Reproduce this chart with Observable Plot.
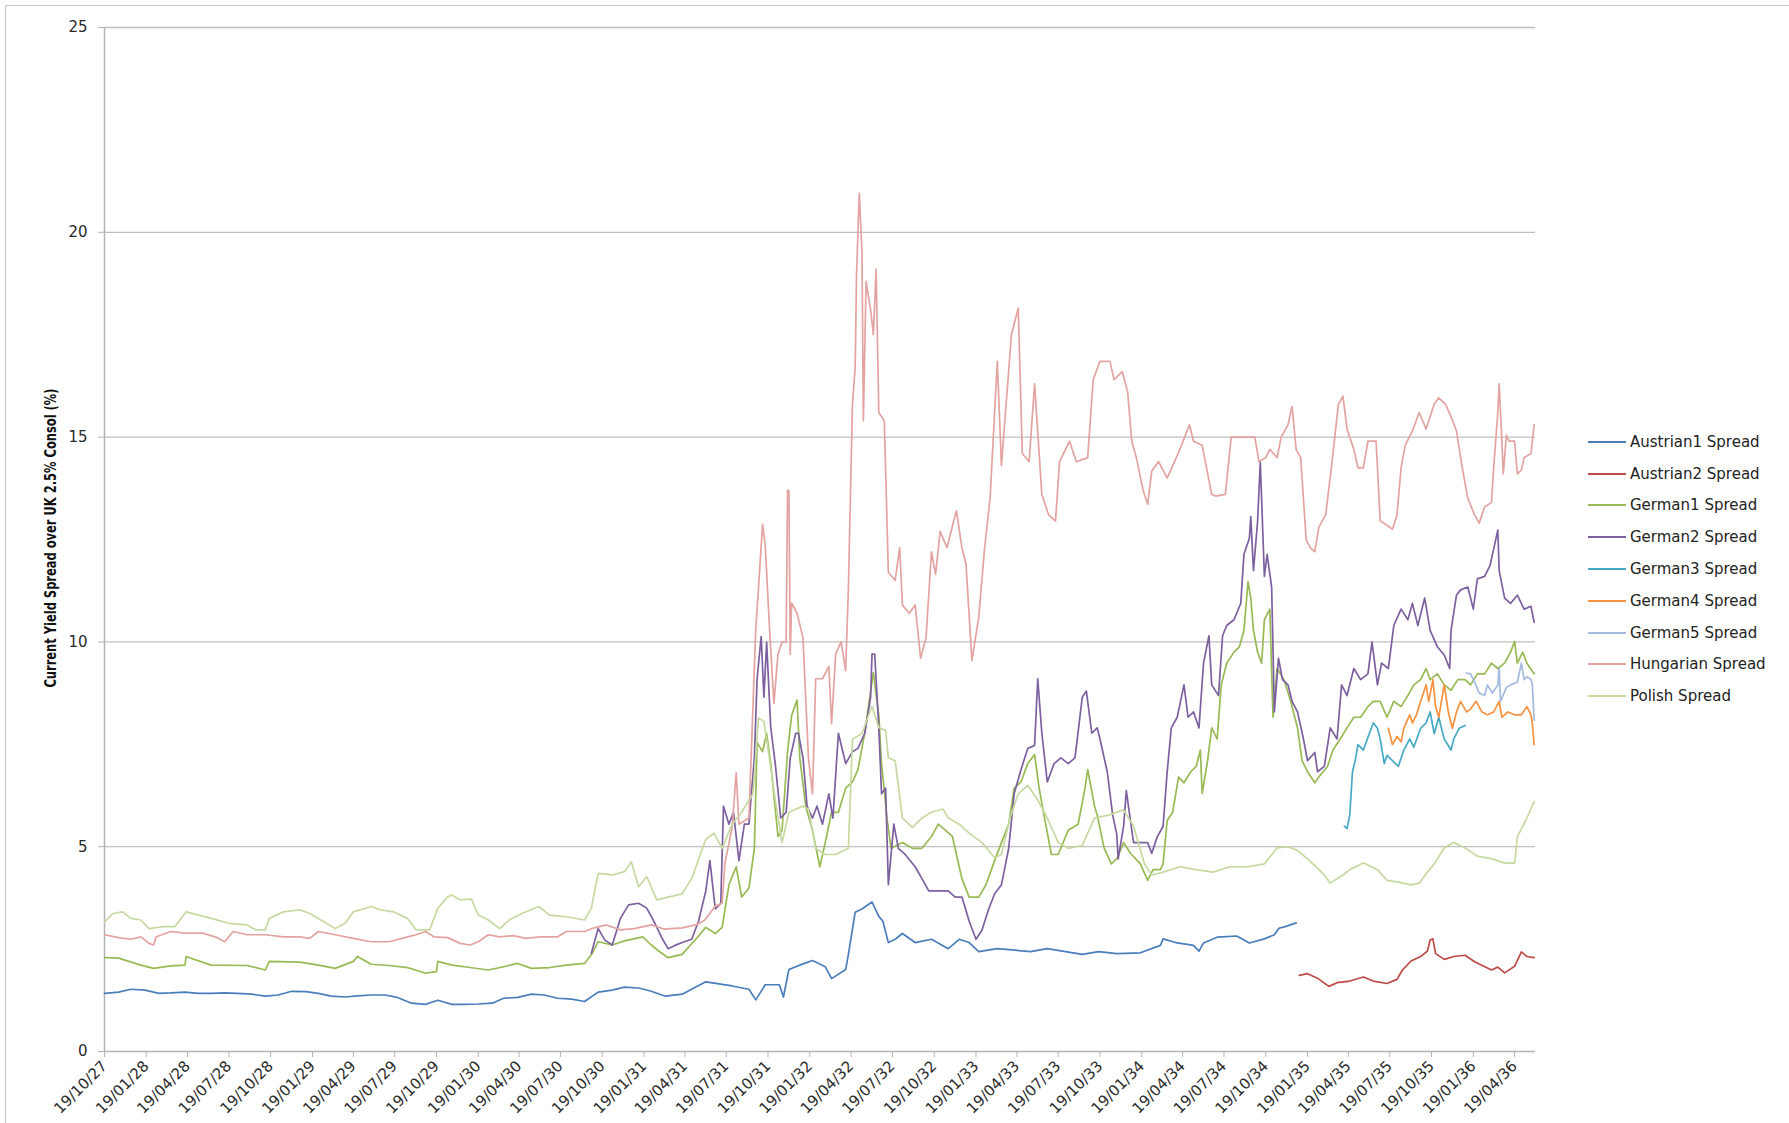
<!DOCTYPE html>
<html><head><meta charset="utf-8">
<script src="https://cdn.jsdelivr.net/npm/d3@7"></script>
<script src="https://cdn.jsdelivr.net/npm/@observablehq/plot@0.6"></script>
<style>
html,body{margin:0;padding:0;background:#fff;overflow:hidden;}
#wrap{position:relative;width:1789px;height:1123px;overflow:hidden;}
#frame{position:absolute;left:5px;top:5px;width:1800px;height:1200px;border:1.5px solid #c4c4c4;}
#chart{position:absolute;left:0;top:0;}
#ytitle{position:absolute;left:51px;top:538px;transform:translate(-50%,-50%) rotate(-90deg) scaleX(0.85);white-space:nowrap;
  font-family:"Liberation Sans Narrow","DejaVu Sans Condensed",sans-serif;font-weight:bold;font-size:15px;color:#111;}
#legend{position:absolute;left:1588px;top:426px;font-family:"DejaVu Sans",sans-serif;font-size:15px;color:#222;}
#legend .item{height:31.8px;display:flex;align-items:center;}
#legend .sw{width:38px;height:2px;margin-right:4px;}
</style></head><body>
<div id="wrap"><div id="frame"></div><div id="chart"></div>
<div id="ytitle">Current Yield Spread over UK 2.5% Consol (%)</div>
<div id="legend"></div></div>
<script>
const seriesNames = ["Austrian1 Spread","Austrian2 Spread","German1 Spread","German2 Spread","German3 Spread","German4 Spread","German5 Spread","Hungarian Spread","Polish Spread"];
const seriesColors = ["#4a7ebb","#be4b48","#98b954","#7d60a0","#46aac5","#f69240","#a3b9df","#e3a3a1","#c6d9a1"];
const yTicks = [0,5,10,15,20,25];
const xTickDates = ["1927-10-19","1928-01-19","1928-04-19","1928-07-19","1928-10-19","1929-01-19","1929-04-19","1929-07-19","1929-10-19","1930-01-19","1930-04-19","1930-07-19","1930-10-19","1931-01-19","1931-04-19","1931-07-19","1931-10-19","1932-01-19","1932-04-19","1932-07-19","1932-10-19","1933-01-19","1933-04-19","1933-07-19","1933-10-19","1934-01-19","1934-04-19","1934-07-19","1934-10-19","1935-01-19","1935-04-19","1935-07-19","1935-10-19","1936-01-19","1936-04-19"];
const xDomain = ["1927-10-19","1936-06-04"];

const austrian1 = [["1927-10-19",1.42],["1927-11-19",1.45],["1927-12-16",1.52],["1928-01-16",1.5],["1928-02-16",1.42],["1928-03-13",1.43],["1928-04-13",1.45],["1928-05-13",1.42],["1928-06-10",1.42],["1928-07-10",1.43],["1928-08-07",1.42],["1928-09-07",1.4],["1928-10-07",1.35],["1928-11-04",1.38],["1928-12-04",1.47],["1929-01-04",1.46],["1929-02-01",1.42],["1929-03-01",1.35],["1929-04-01",1.33],["1929-04-28",1.36],["1929-05-28",1.38],["1929-06-28",1.38],["1929-07-25",1.32],["1929-08-25",1.18],["1929-09-25",1.15],["1929-10-22",1.25],["1929-11-22",1.15],["1929-12-19",1.15],["1930-01-19",1.16],["1930-02-19",1.18],["1930-03-16",1.3],["1930-04-16",1.32],["1930-05-16",1.4],["1930-06-13",1.38],["1930-07-13",1.3],["1930-08-13",1.28],["1930-09-10",1.22],["1930-10-10",1.45],["1930-11-10",1.5],["1930-12-07",1.57],["1931-01-07",1.55],["1931-02-04",1.47],["1931-03-07",1.35],["1931-04-13",1.4],["1931-06-04",1.7],["1931-08-01",1.6],["1931-09-07",1.52],["1931-09-22",1.26],["1931-10-13",1.63],["1931-11-13",1.63],["1931-11-22",1.33],["1931-12-04",2.0],["1932-01-04",2.14],["1932-01-25",2.22],["1932-02-22",2.07],["1932-03-07",1.78],["1932-04-07",2.0],["1932-04-13",2.37],["1932-04-28",3.4],["1932-05-13",3.48],["1932-06-04",3.65],["1932-06-19",3.3],["1932-06-28",3.18],["1932-07-10",2.66],["1932-07-25",2.74],["1932-08-10",2.88],["1932-09-07",2.66],["1932-10-13",2.74],["1932-11-19",2.51],["1932-12-13",2.74],["1933-01-04",2.66],["1933-01-25",2.44],["1933-03-07",2.51],["1933-05-19",2.44],["1933-06-25",2.51],["1933-09-10",2.37],["1933-10-16",2.44],["1933-11-25",2.39],["1934-01-16",2.41],["1934-03-01",2.59],["1934-03-07",2.75],["1934-04-07",2.65],["1934-05-13",2.59],["1934-05-25",2.45],["1934-06-04",2.65],["1934-07-04",2.79],["1934-08-16",2.82],["1934-09-13",2.65],["1934-10-16",2.75],["1934-11-07",2.85],["1934-11-17",3.01],["1934-12-01",3.05],["1934-12-25",3.14]];

const austrian2 = [["1935-01-01",1.86],["1935-01-19",1.9],["1935-02-10",1.79],["1935-03-07",1.59],["1935-03-25",1.68],["1935-04-22",1.72],["1935-05-22",1.82],["1935-06-13",1.72],["1935-07-13",1.66],["1935-08-04",1.76],["1935-08-16",1.99],["1935-09-04",2.21],["1935-09-25",2.32],["1935-10-10",2.45],["1935-10-16",2.72],["1935-10-22",2.75],["1935-10-28",2.39],["1935-11-16",2.25],["1935-12-07",2.32],["1936-01-01",2.35],["1936-01-22",2.19],["1936-02-28",1.99],["1936-03-13",2.06],["1936-03-28",1.92],["1936-04-19",2.08],["1936-05-04",2.43],["1936-05-16",2.32],["1936-06-01",2.29]];

const german1 = [["1927-10-19",2.29],["1927-11-19",2.28],["1928-01-07",2.11],["1928-02-04",2.03],["1928-03-13",2.09],["1928-04-13",2.11],["1928-04-16",2.32],["1928-05-01",2.26],["1928-06-10",2.11],["1928-08-28",2.1],["1928-10-07",1.99],["1928-10-16",2.2],["1928-12-22",2.18],["1929-02-01",2.11],["1929-03-10",2.03],["1929-04-19",2.2],["1929-04-28",2.32],["1929-05-28",2.13],["1929-07-07",2.1],["1929-08-16",2.05],["1929-09-25",1.91],["1929-10-19",1.95],["1929-10-22",2.2],["1929-11-22",2.11],["1930-01-01",2.05],["1930-02-10",1.99],["1930-03-16",2.07],["1930-04-16",2.15],["1930-05-16",2.03],["1930-06-25",2.05],["1930-08-01",2.11],["1930-09-10",2.15],["1930-09-25",2.36],["1930-10-10",2.68],["1930-11-10",2.6],["1930-12-07",2.7],["1931-01-16",2.8],["1931-02-04",2.6],["1931-02-22",2.44],["1931-03-13",2.29],["1931-04-13",2.37],["1931-05-13",2.74],["1931-06-04",3.03],["1931-06-25",2.88],["1931-07-10",3.03],["1931-07-25",4.07],["1931-08-10",4.51],["1931-08-22",3.77],["1931-09-07",3.99],["1931-09-19",4.96],["1931-09-25",7.54],["1931-10-07",7.32],["1931-10-16",7.77],["1931-10-25",7.03],["1931-11-10",5.25],["1931-11-19",5.4],["1931-12-01",7.32],["1931-12-10",8.2],["1931-12-22",8.58],["1931-12-28",7.17],["1932-01-10",5.99],["1932-01-25",5.4],["1932-02-10",4.51],["1932-02-22",5.1],["1932-03-07",5.84],["1932-03-22",5.84],["1932-04-07",6.43],["1932-04-22",6.58],["1932-05-04",6.88],["1932-05-19",7.77],["1932-06-01",8.8],["1932-06-07",9.25],["1932-06-19",8.2],["1932-06-25",7.03],["1932-07-07",5.7],["1932-07-16",4.96],["1932-08-10",5.1],["1932-09-01",4.96],["1932-09-22",4.96],["1932-10-13",5.25],["1932-10-28",5.55],["1932-11-13",5.4],["1932-11-28",5.25],["1932-12-19",4.22],["1933-01-04",3.77],["1933-01-25",3.77],["1933-02-10",4.07],["1933-03-01",4.66],["1933-03-16",5.1],["1933-04-01",5.55],["1933-04-13",6.43],["1933-04-28",6.58],["1933-05-13",7.03],["1933-05-28",7.25],["1933-06-07",6.43],["1933-06-19",5.7],["1933-07-04",4.81],["1933-07-19",4.81],["1933-08-10",5.4],["1933-09-01",5.55],["1933-09-16",6.43],["1933-09-22",6.88],["1933-10-07",5.99],["1933-10-13",5.77],["1933-10-28",4.97],["1933-11-13",4.58],["1933-11-25",4.71],["1933-12-10",5.1],["1933-12-25",4.84],["1934-01-16",4.58],["1934-02-01",4.18],["1934-02-13",4.44],["1934-03-01",4.44],["1934-03-07",4.58],["1934-03-16",5.64],["1934-03-28",5.84],["1934-04-10",6.7],["1934-04-22",6.56],["1934-05-07",6.83],["1934-05-19",6.96],["1934-05-28",7.36],["1934-06-01",6.3],["1934-06-13",7.1],["1934-06-22",7.9],["1934-07-04",7.63],["1934-07-13",8.95],["1934-07-25",9.48],["1934-08-10",9.75],["1934-08-22",9.88],["1934-09-01",10.28],["1934-09-10",11.47],["1934-09-16",11.07],["1934-09-22",10.28],["1934-10-01",9.75],["1934-10-10",9.48],["1934-10-16",10.54],["1934-10-28",10.8],["1934-11-04",8.16],["1934-11-13",9.35],["1934-11-28",9.08],["1934-12-13",8.55],["1934-12-28",7.9],["1935-01-07",7.1],["1935-01-19",6.83],["1935-02-04",6.56],["1935-02-13",6.7],["1935-03-04",6.96],["1935-03-16",7.36],["1935-04-01",7.63],["1935-04-16",7.9],["1935-05-01",8.16],["1935-05-16",8.16],["1935-06-01",8.42],["1935-06-13",8.55],["1935-06-28",8.55],["1935-07-13",8.16],["1935-07-28",8.55],["1935-08-13",8.42],["1935-08-28",8.69],["1935-09-10",8.95],["1935-09-25",9.08],["1935-10-07",9.35],["1935-10-16",9.08],["1935-11-01",9.22],["1935-11-16",8.95],["1935-12-01",8.82],["1935-12-16",9.08],["1936-01-01",9.08],["1936-01-13",8.95],["1936-01-28",9.22],["1936-02-13",9.22],["1936-02-28",9.48],["1936-03-13",9.35],["1936-03-28",9.48],["1936-04-10",9.75],["1936-04-19",10.01],["1936-04-25",9.48],["1936-05-07",9.75],["1936-05-16",9.48],["1936-06-01",9.22]];

const german2 = [["1930-09-25",2.4],["1930-10-10",3.0],["1930-10-25",2.72],["1930-11-10",2.6],["1930-11-28",3.25],["1930-12-16",3.58],["1931-01-07",3.62],["1931-01-25",3.5],["1931-02-10",3.17],["1931-03-01",2.74],["1931-03-13",2.51],["1931-03-28",2.59],["1931-04-13",2.66],["1931-05-04",2.74],["1931-05-19",3.18],["1931-06-04",3.92],["1931-06-13",4.66],["1931-06-25",3.48],["1931-07-07",3.62],["1931-07-13",5.99],["1931-07-25",5.55],["1931-08-04",5.84],["1931-08-16",4.66],["1931-08-28",5.55],["1931-09-07",5.55],["1931-09-19",7.17],["1931-09-25",9.1],["1931-10-04",10.13],["1931-10-10",8.65],["1931-10-16",9.99],["1931-10-25",7.91],["1931-11-04",7.03],["1931-11-16",5.7],["1931-11-28",5.84],["1931-12-07",7.17],["1931-12-19",7.77],["1931-12-25",7.77],["1932-01-04",7.17],["1932-01-13",5.99],["1932-01-25",5.7],["1932-02-04",5.99],["1932-02-16",5.55],["1932-03-01",6.29],["1932-03-10",5.7],["1932-03-22",7.77],["1932-04-07",7.03],["1932-04-22",7.32],["1932-05-04",7.4],["1932-05-19",7.77],["1932-06-01",8.65],["1932-06-04",9.7],["1932-06-10",9.7],["1932-06-19",7.91],["1932-06-25",6.29],["1932-07-04",6.43],["1932-07-10",4.07],["1932-07-22",5.55],["1932-08-01",4.96],["1932-08-16",4.81],["1932-09-07",4.51],["1932-09-22",4.22],["1932-10-07",3.92],["1932-10-28",3.92],["1932-11-19",3.92],["1932-12-04",3.77],["1932-12-19",3.77],["1933-01-04",3.18],["1933-01-19",2.74],["1933-02-01",2.96],["1933-02-16",3.48],["1933-03-01",3.85],["1933-03-16",4.07],["1933-04-01",4.96],["1933-04-13",6.29],["1933-04-28",6.88],["1933-05-13",7.4],["1933-05-28",7.47],["1933-06-04",9.1],["1933-06-13",7.77],["1933-06-25",6.58],["1933-07-10",7.03],["1933-07-25",7.17],["1933-08-10",7.03],["1933-08-25",7.17],["1933-09-10",8.65],["1933-09-19",8.8],["1933-10-01",7.77],["1933-10-13",7.9],["1933-10-19",7.63],["1933-11-04",6.83],["1933-11-16",5.77],["1933-11-25",5.3],["1933-11-28",4.7],["1933-12-10",5.5],["1933-12-16",6.37],["1933-12-25",5.64],["1934-01-01",5.1],["1934-02-01",5.1],["1934-02-10",4.84],["1934-02-22",5.24],["1934-03-07",5.5],["1934-03-16",6.83],["1934-03-25",7.9],["1934-04-07",8.16],["1934-04-22",8.95],["1934-05-01",8.16],["1934-05-13",8.29],["1934-05-25",7.9],["1934-06-04",9.48],["1934-06-16",10.15],["1934-06-22",8.95],["1934-07-07",8.69],["1934-07-16",10.15],["1934-07-25",10.4],["1934-08-10",10.54],["1934-08-25",10.94],["1934-09-01",12.14],["1934-09-13",12.53],["1934-09-16",13.06],["1934-09-22",11.74],["1934-10-01",12.93],["1934-10-07",14.39],["1934-10-16",11.6],["1934-10-22",12.14],["1934-11-01",11.34],["1934-11-07",8.29],["1934-11-16",9.6],["1934-11-25",9.08],["1934-12-07",8.95],["1934-12-16",8.55],["1934-12-28",8.29],["1935-01-10",7.63],["1935-01-19",7.1],["1935-02-04",7.3],["1935-02-10",6.83],["1935-02-25",6.96],["1935-03-10",7.9],["1935-03-25",7.63],["1935-04-04",8.95],["1935-04-16",8.69],["1935-05-01",9.35],["1935-05-16",9.08],["1935-06-01",9.22],["1935-06-10",10.0],["1935-06-22",8.95],["1935-07-01",9.48],["1935-07-16",9.35],["1935-07-28",10.4],["1935-08-13",10.8],["1935-08-28",10.54],["1935-09-07",10.94],["1935-09-19",10.4],["1935-10-04",11.07],["1935-10-16",10.28],["1935-11-01",9.88],["1935-11-16",9.68],["1935-11-28",9.35],["1935-12-01",10.28],["1935-12-13",11.14],["1935-12-22",11.27],["1936-01-07",11.34],["1936-01-19",10.8],["1936-01-28",11.54],["1936-02-13",11.6],["1936-02-25",11.87],["1936-03-04",12.27],["1936-03-13",12.73],["1936-03-16",11.74],["1936-03-28",11.07],["1936-04-10",10.94],["1936-04-25",11.14],["1936-05-10",10.8],["1936-05-25",10.87],["1936-06-01",10.48]];

const german3 = [["1935-04-10",5.5],["1935-04-16",5.44],["1935-04-22",5.77],["1935-04-28",6.83],["1935-05-04",7.1],["1935-05-10",7.49],["1935-05-22",7.36],["1935-06-04",7.76],["1935-06-13",8.02],["1935-06-22",7.89],["1935-06-28",7.63],["1935-07-07",7.03],["1935-07-13",7.23],["1935-07-25",7.1],["1935-08-07",6.96],["1935-08-19",7.36],["1935-09-01",7.63],["1935-09-10",7.43],["1935-09-25",7.89],["1935-10-07",8.02],["1935-10-16",8.29],["1935-10-25",7.76],["1935-11-04",8.16],["1935-11-16",7.63],["1935-12-01",7.36],["1935-12-07",7.63],["1935-12-19",7.89],["1936-01-01",7.96]];

const german4 = [["1935-07-16",7.89],["1935-07-25",7.49],["1935-08-04",7.69],["1935-08-13",7.56],["1935-08-19",7.89],["1935-09-01",8.22],["1935-09-07",8.02],["1935-09-16",8.22],["1935-09-25",8.55],["1935-10-07",8.95],["1935-10-13",8.55],["1935-10-22",9.08],["1935-10-28",8.42],["1935-11-04",8.16],["1935-11-16",8.95],["1935-11-25",8.29],["1935-12-04",7.89],["1935-12-13",8.29],["1935-12-22",8.55],["1936-01-04",8.29],["1936-01-13",8.36],["1936-01-25",8.55],["1936-02-07",8.29],["1936-02-19",8.22],["1936-03-04",8.29],["1936-03-16",8.55],["1936-03-22",8.16],["1936-04-04",8.29],["1936-04-19",8.22],["1936-05-04",8.22],["1936-05-16",8.42],["1936-05-25",8.22],["1936-05-28",8.02],["1936-06-01",7.49]];

const german5 = [["1936-01-04",9.24],["1936-01-13",9.22],["1936-01-22",9.02],["1936-02-01",8.75],["1936-02-13",8.69],["1936-02-19",8.95],["1936-03-01",8.75],["1936-03-13",8.95],["1936-03-16",9.35],["1936-03-19",8.55],["1936-04-01",8.89],["1936-04-10",8.95],["1936-04-25",9.02],["1936-05-04",9.48],["1936-05-10",9.08],["1936-05-16",9.15],["1936-05-25",9.08],["1936-05-28",8.95],["1936-06-01",8.09]];

const hungarian = [["1927-10-19",2.85],["1927-11-19",2.78],["1927-12-16",2.74],["1928-01-07",2.8],["1928-01-25",2.64],["1928-02-04",2.6],["1928-02-10",2.8],["1928-03-13",2.93],["1928-04-13",2.89],["1928-05-22",2.89],["1928-06-19",2.8],["1928-07-10",2.68],["1928-07-28",2.93],["1928-08-28",2.85],["1928-10-07",2.85],["1928-11-16",2.8],["1928-12-22",2.8],["1929-01-13",2.76],["1929-02-01",2.93],["1929-03-10",2.85],["1929-04-19",2.76],["1929-05-28",2.68],["1929-07-07",2.68],["1929-08-16",2.8],["1929-09-04",2.85],["1929-09-25",2.93],["1929-10-13",2.8],["1929-11-13",2.78],["1929-12-10",2.64],["1930-01-01",2.6],["1930-01-19",2.68],["1930-02-10",2.85],["1930-03-07",2.8],["1930-04-07",2.83],["1930-05-04",2.76],["1930-06-04",2.8],["1930-07-13",2.8],["1930-08-01",2.93],["1930-09-10",2.93],["1930-10-01",3.02],["1930-10-28",3.09],["1930-11-28",2.97],["1930-12-28",3.0],["1931-02-04",3.09],["1931-03-04",2.99],["1931-04-13",3.02],["1931-05-13",3.09],["1931-06-01",3.2],["1931-06-25",3.55],["1931-07-10",3.62],["1931-07-16",4.59],["1931-08-01",5.47],["1931-08-10",6.8],["1931-08-16",5.55],["1931-09-07",5.7],["1931-09-22",10.3],["1931-09-28",11.3],["1931-10-07",12.87],["1931-10-13",12.35],["1931-10-22",10.4],["1931-11-01",8.5],["1931-11-10",9.7],["1931-11-19",10.0],["1931-11-28",10.0],["1931-12-01",13.7],["1931-12-04",13.7],["1931-12-07",9.7],["1931-12-10",10.95],["1931-12-22",10.7],["1932-01-04",10.1],["1932-01-10",8.65],["1932-01-16",7.17],["1932-01-25",6.29],["1932-02-01",9.1],["1932-02-16",9.1],["1932-03-01",9.4],["1932-03-07",8.0],["1932-03-16",9.7],["1932-03-28",10.0],["1932-04-07",9.3],["1932-04-13",11.3],["1932-04-22",15.8],["1932-04-28",16.7],["1932-05-01",19.0],["1932-05-07",20.96],["1932-05-13",19.5],["1932-05-16",15.4],["1932-05-22",18.8],["1932-06-01",18.1],["1932-06-07",17.5],["1932-06-13",19.1],["1932-06-19",15.6],["1932-07-01",15.4],["1932-07-04",14.2],["1932-07-10",11.7],["1932-07-25",11.5],["1932-08-04",12.3],["1932-08-10",10.9],["1932-08-25",10.7],["1932-09-07",10.9],["1932-09-19",9.6],["1932-10-01",10.1],["1932-10-13",12.2],["1932-10-22",11.65],["1932-11-01",12.7],["1932-11-16",12.3],["1932-12-01",12.95],["1932-12-07",13.2],["1932-12-19",12.3],["1932-12-28",11.9],["1933-01-10",9.54],["1933-01-25",10.6],["1933-02-07",12.3],["1933-02-19",13.5],["1933-02-28",15.4],["1933-03-07",16.85],["1933-03-16",14.3],["1933-04-07",17.5],["1933-04-22",18.15],["1933-05-01",14.6],["1933-05-16",14.4],["1933-05-28",16.3],["1933-06-13",13.6],["1933-06-28",13.1],["1933-07-13",12.95],["1933-07-22",14.4],["1933-08-13",14.9],["1933-08-28",14.4],["1933-09-22",14.5],["1933-10-04",16.4],["1933-10-19",16.85],["1933-11-10",16.85],["1933-11-19",16.4],["1933-12-07",16.6],["1933-12-19",16.1],["1933-12-28",14.9],["1934-01-07",14.5],["1934-01-22",13.7],["1934-02-01",13.36],["1934-02-10",14.17],["1934-02-25",14.4],["1934-03-16",14.0],["1934-04-13",14.7],["1934-05-04",15.3],["1934-05-13",14.9],["1934-06-01",14.8],["1934-06-22",13.6],["1934-07-01",13.56],["1934-07-22",13.6],["1934-08-04",15.0],["1934-09-01",15.0],["1934-09-25",15.0],["1934-10-04",14.4],["1934-10-19",14.5],["1934-10-28",14.7],["1934-11-13",14.5],["1934-11-22",15.0],["1934-12-07",15.3],["1934-12-16",15.75],["1934-12-25",14.7],["1935-01-04",14.5],["1935-01-16",12.5],["1935-01-25",12.3],["1935-02-04",12.2],["1935-02-13",12.8],["1935-02-28",13.1],["1935-03-13",14.3],["1935-03-28",15.8],["1935-04-07",16.0],["1935-04-16",15.2],["1935-05-01",14.7],["1935-05-10",14.25],["1935-05-22",14.25],["1935-06-01",14.9],["1935-06-19",14.9],["1935-06-28",12.95],["1935-07-10",12.87],["1935-07-25",12.75],["1935-08-04",13.1],["1935-08-13",14.25],["1935-08-22",14.8],["1935-09-07",15.15],["1935-09-22",15.6],["1935-10-07",15.2],["1935-10-25",15.8],["1935-11-04",15.96],["1935-11-19",15.8],["1935-12-01",15.5],["1935-12-13",15.15],["1935-12-25",14.3],["1936-01-07",13.5],["1936-01-22",13.1],["1936-02-01",12.9],["1936-02-13",13.3],["1936-02-28",13.4],["1936-03-04",14.26],["1936-03-13",15.6],["1936-03-16",16.3],["1936-03-22",14.9],["1936-03-25",14.1],["1936-04-01",15.05],["1936-04-07",14.9],["1936-04-19",14.9],["1936-04-25",14.1],["1936-05-04",14.2],["1936-05-10",14.5],["1936-05-25",14.6],["1936-06-01",15.3]];

const polish = [["1927-10-19",3.17],["1927-11-07",3.37],["1927-11-28",3.41],["1927-12-16",3.25],["1928-01-07",3.21],["1928-01-25",3.0],["1928-02-25",3.05],["1928-03-22",3.05],["1928-04-16",3.41],["1928-05-13",3.33],["1928-06-10",3.25],["1928-07-19",3.13],["1928-08-28",3.09],["1928-09-16",2.97],["1928-10-07",2.97],["1928-10-16",3.25],["1928-11-16",3.41],["1928-12-22",3.46],["1929-01-13",3.37],["1929-02-13",3.17],["1929-03-10",3.0],["1929-04-01",3.13],["1929-04-19",3.41],["1929-05-28",3.54],["1929-06-16",3.46],["1929-07-16",3.41],["1929-08-16",3.25],["1929-09-04",2.97],["1929-10-04",2.97],["1929-10-22",3.5],["1929-11-13",3.78],["1929-11-22",3.82],["1929-12-10",3.7],["1930-01-04",3.72],["1930-01-19",3.33],["1930-02-10",3.21],["1930-03-07",3.0],["1930-03-28",3.21],["1930-04-25",3.37],["1930-06-01",3.54],["1930-06-25",3.33],["1930-08-01",3.29],["1930-09-10",3.21],["1930-09-25",3.5],["1930-10-10",4.35],["1930-11-10",4.31],["1930-12-07",4.39],["1930-12-22",4.63],["1931-01-07",4.02],["1931-01-25",4.27],["1931-02-16",3.7],["1931-03-13",3.77],["1931-04-13",3.85],["1931-05-04",4.22],["1931-06-04",5.18],["1931-06-22",5.33],["1931-07-10",4.96],["1931-08-01",5.55],["1931-08-22",5.84],["1931-09-16",6.29],["1931-09-28",8.14],["1931-10-10",8.06],["1931-10-22",7.17],["1931-11-04",6.14],["1931-11-19",5.1],["1931-12-04",5.84],["1932-01-04",5.99],["1932-01-16",5.92],["1932-02-01",4.96],["1932-02-22",4.81],["1932-03-16",4.81],["1932-04-13",4.96],["1932-04-22",7.62],["1932-05-13",7.77],["1932-06-04",8.43],["1932-06-19",7.91],["1932-07-04",7.84],["1932-07-10",7.17],["1932-07-25",7.1],["1932-08-10",5.7],["1932-09-01",5.47],["1932-09-22",5.7],["1932-10-13",5.84],["1932-11-07",5.92],["1932-11-19",5.7],["1932-12-13",5.55],["1933-01-04",5.33],["1933-02-01",5.1],["1933-03-01",4.73],["1933-03-16",4.81],["1933-04-04",5.7],["1933-04-22",6.29],["1933-05-13",6.5],["1933-06-04",6.14],["1933-06-25",5.7],["1933-07-19",5.1],["1933-08-10",4.96],["1933-09-10",5.03],["1933-10-07",5.7],["1933-11-07",5.77],["1933-12-10",5.9],["1934-01-01",5.5],["1934-01-25",4.58],["1934-02-10",4.31],["1934-03-07",4.38],["1934-04-13",4.51],["1934-05-19",4.44],["1934-06-25",4.38],["1934-08-01",4.51],["1934-09-10",4.51],["1934-10-16",4.58],["1934-11-13",4.97],["1934-12-07",5.0],["1934-12-28",4.91],["1935-01-25",4.64],["1935-02-25",4.31],["1935-03-10",4.11],["1935-04-07",4.31],["1935-04-22",4.44],["1935-05-22",4.6],["1935-06-22",4.44],["1935-07-13",4.18],["1935-08-04",4.14],["1935-09-04",4.07],["1935-09-22",4.11],["1935-10-10",4.38],["1935-10-25",4.58],["1935-11-16",4.97],["1935-12-07",5.1],["1936-01-01",4.97],["1936-01-28",4.77],["1936-02-28",4.71],["1936-03-28",4.6],["1936-04-19",4.6],["1936-04-25",5.24],["1936-05-07",5.5],["1936-05-16",5.7],["1936-06-01",6.1]];

const allSeries = [austrian1, austrian2, german1, german2, german3, german4, german5, hungarian, polish];

const parse = d3.utcParse("%Y-%m-%d");
const fmt = d3.utcFormat("%d/%m/%y");

const lineMarks = allSeries.map((s, i) =>
  Plot.line(s, {x: d => parse(d[0]), y: d => d[1], stroke: seriesColors[i], strokeWidth: 1.7, strokeLinejoin: "round"})
);

const chart = Plot.plot({
  width: 1789,
  height: 1123,
  marginLeft: 104,
  marginRight: 254,
  marginTop: 27,
  marginBottom: 72,
  style: {fontFamily: "DejaVu Sans, sans-serif", fontSize: "15px", color: "#2a2a2a", background: "transparent"},
  x: {type: "utc", domain: xDomain.map(parse)},
  y: {domain: [0, 25]},
  marks: [
    Plot.ruleY(yTicks.filter(v => v > 0), {stroke: "#bfbfbf", strokeWidth: 1.3}),
    Plot.ruleY([0], {stroke: "#b3b3b3", strokeWidth: 1.5}),
    Plot.ruleX([parse(xDomain[0])], {stroke: "#b3b3b3", strokeWidth: 1.5}),
    Plot.axisY({ticks: yTicks, tickSize: 6, tickPadding: 11, label: null, stroke: "#b3b3b3", fontSize: 15}),
    Plot.axisX({ticks: xTickDates.map(parse), tickFormat: fmt, tickRotate: -45, tickSize: 6, tickPadding: 6, label: null, stroke: "#b3b3b3", fontSize: 15}),
    ...lineMarks
  ]
});
document.getElementById("chart").appendChild(chart);

const legend = document.getElementById("legend");
seriesNames.forEach((n, i) => {
  const row = document.createElement("div");
  row.className = "item";
  const sw = document.createElement("div");
  sw.className = "sw";
  sw.style.background = seriesColors[i];
  const t = document.createElement("span");
  t.textContent = n;
  row.appendChild(sw); row.appendChild(t);
  legend.appendChild(row);
});
</script>
</body></html>
